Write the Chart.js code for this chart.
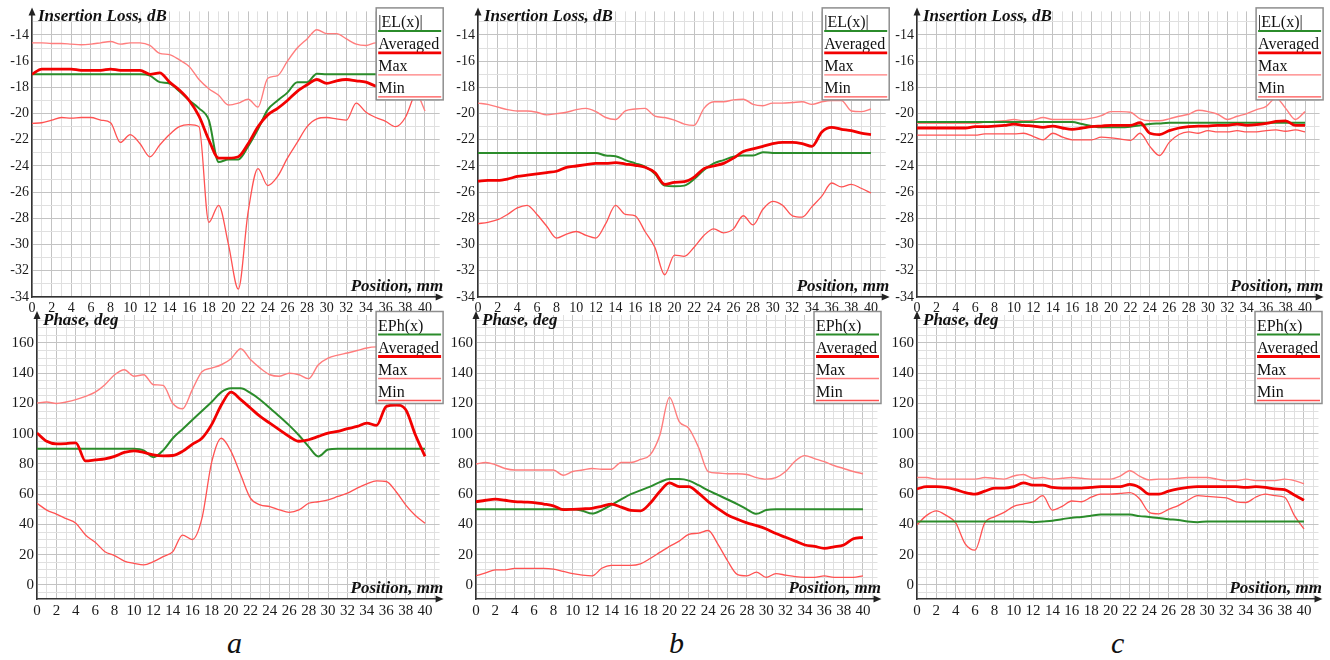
<!DOCTYPE html>
<html>
<head>
<meta charset="utf-8">
<script src="https://cdn.jsdelivr.net/npm/chart.js@4.4.1/dist/chart.umd.min.js"></script>
<style>
body { margin: 0; background: #fff; }
#fig { position: relative; width: 1330px; height: 660px; overflow: hidden; background: #fff; }
#fig canvas { position: absolute; }
.sub { position: absolute; font: italic 30px "Liberation Serif", serif; line-height: 30px; color: #111; }
</style>
</head>
<body>
<div id="fig">
<canvas id="ilA" width="445" height="312" style="left:0px;top:0px"></canvas>
<canvas id="ilB" width="445" height="312" style="left:445px;top:0px"></canvas>
<canvas id="ilC" width="445" height="312" style="left:885px;top:0px"></canvas>
<canvas id="phA" width="445" height="315" style="left:0px;top:300px"></canvas>
<canvas id="phB" width="445" height="315" style="left:445px;top:300px"></canvas>
<canvas id="phC" width="445" height="315" style="left:885px;top:300px"></canvas>
<div class="sub" style="left:227px;top:628px">a</div>
<div class="sub" style="left:669px;top:628px">b</div>
<div class="sub" style="left:1111px;top:628px">c</div>
</div>
<script>
// position along the line, mm
const posMm = [0,1,2,3,4,5,6,7,8,9,10,11,12,13,14,15,16,17,18,19,20,21,22,23,24,25,26,27,28,29,30,31,32,33,34,35,36,37,38,39,40];

// insertion loss, dB (panel a, b, c)
const ilA_el  = [-17,-17,-17,-17,-17,-17,-17,-17,-17,-17,-17,-17,-17.1,-17.6,-17.7,-18.3,-19.0,-19.6,-20.5,-23.7,-23.5,-23.5,-22.5,-21.2,-19.7,-19.0,-18.4,-17.6,-17.6,-16.95,-17,-17,-17,-17,-17,-17,-17,-17,-17,-17,-17];
const ilA_avg = [-17.0,-16.6,-16.6,-16.6,-16.6,-16.7,-16.7,-16.7,-16.6,-16.7,-16.7,-16.7,-17.0,-16.9,-17.6,-18.2,-19.0,-20.2,-22.0,-23.4,-23.4,-23.3,-22.3,-21.0,-20.1,-19.6,-19.0,-18.3,-17.8,-17.4,-17.7,-17.5,-17.4,-17.5,-17.6,-17.9,-18.0,-18.0,-18.1,-18.0,-18.0];
const ilA_max = [-14.6,-14.6,-14.65,-14.65,-14.7,-14.75,-14.7,-14.6,-14.5,-14.7,-14.6,-14.6,-14.8,-15.4,-15.5,-15.9,-16.4,-17.4,-18.1,-18.6,-19.35,-19.2,-18.9,-19.5,-17.3,-17.1,-16.0,-15.0,-14.3,-13.6,-13.9,-13.9,-14.3,-14.7,-14.8,-14.6,-14.8,-15.5,-16.5,-18.0,-19.8];
const ilA_min = [-20.75,-20.7,-20.5,-20.3,-20.35,-20.3,-20.3,-20.5,-20.7,-22.2,-21.6,-22.3,-23.3,-22.4,-21.6,-21.0,-20.85,-21.0,-28.3,-27.0,-30.0,-33.4,-27.5,-24.2,-25.5,-24.8,-23.4,-22.2,-21.0,-20.4,-20.3,-20.4,-20.5,-19.2,-19.9,-20.3,-20.6,-21.0,-20.3,-18.5,-18.0];

const ilB_el  = [-23,-23,-23,-23,-23,-23,-23,-23,-23,-23,-23,-23,-23,-23.2,-23.25,-23.55,-23.8,-24.05,-24.6,-25.5,-25.55,-25.5,-25.0,-24.3,-23.8,-23.55,-23.3,-23.2,-23.2,-22.95,-23,-23,-23,-23,-23,-23,-23,-23,-23,-23,-23];
const ilB_avg = [-25.15,-25.1,-25.1,-25.0,-24.8,-24.7,-24.6,-24.5,-24.4,-24.1,-24.0,-23.9,-23.8,-23.8,-23.75,-23.85,-23.95,-24.1,-24.5,-25.4,-25.25,-25.2,-24.85,-24.2,-24.0,-23.8,-23.4,-22.9,-22.7,-22.5,-22.3,-22.2,-22.2,-22.3,-22.5,-21.4,-21.05,-21.2,-21.3,-21.5,-21.6];
const ilB_max = [-19.2,-19.3,-19.5,-19.7,-19.8,-19.8,-19.9,-20.1,-20.0,-19.9,-19.7,-19.6,-19.85,-20.3,-20.45,-19.8,-19.65,-19.6,-20.2,-20.3,-20.5,-20.8,-20.9,-19.6,-19.1,-19.1,-18.95,-18.9,-19.3,-19.4,-19.2,-19.2,-19.15,-19.1,-19.3,-19.1,-19.0,-19.0,-19.8,-19.85,-19.65];
const ilB_min = [-28.4,-28.3,-28.1,-27.7,-27.2,-27.0,-27.7,-28.6,-29.5,-29.2,-29.0,-29.3,-29.5,-28.4,-27.0,-27.7,-27.8,-29.0,-30.2,-32.3,-30.8,-30.9,-30.2,-29.3,-28.8,-29.1,-28.8,-27.8,-28.5,-27.3,-26.7,-27.0,-27.8,-27.9,-27.1,-26.3,-25.3,-25.6,-25.4,-25.7,-26.05];

const ilC_el  = [-20.65,-20.65,-20.65,-20.65,-20.65,-20.65,-20.65,-20.65,-20.65,-20.65,-20.65,-20.65,-20.65,-20.65,-20.65,-20.65,-20.65,-20.8,-20.95,-21.05,-21.05,-21.05,-21.0,-20.9,-20.8,-20.75,-20.7,-20.7,-20.7,-20.7,-20.7,-20.7,-20.7,-20.7,-20.7,-20.7,-20.7,-20.7,-20.7,-20.7,-20.7];
const ilC_avg = [-21.1,-21.1,-21.1,-21.1,-21.1,-21.1,-21.0,-21.0,-20.95,-20.9,-20.8,-20.9,-20.95,-21.05,-20.95,-21.1,-21.2,-21.1,-21.0,-20.95,-20.9,-20.9,-20.9,-20.7,-21.5,-21.6,-21.3,-21.1,-21.0,-20.95,-20.95,-20.9,-20.9,-20.8,-20.9,-20.85,-20.75,-20.6,-20.55,-20.9,-20.9];
const ilC_max = [-20.75,-20.75,-20.75,-20.75,-20.75,-20.75,-20.75,-20.65,-20.6,-20.55,-20.45,-20.55,-20.5,-20.3,-20.45,-20.45,-20.45,-20.45,-20.35,-20.15,-19.85,-19.85,-19.9,-20.4,-20.55,-20.55,-20.4,-20.2,-20.05,-19.75,-19.85,-20.05,-20.45,-20.2,-20.0,-19.7,-19.45,-18.8,-19.6,-20.45,-19.85];
const ilC_min = [-21.65,-21.65,-21.65,-21.65,-21.65,-21.65,-21.65,-21.55,-21.55,-21.55,-21.55,-21.5,-21.75,-22.0,-21.5,-21.8,-22.0,-22.0,-22.0,-21.8,-21.85,-21.95,-22.05,-21.5,-22.5,-23.2,-22.2,-21.6,-21.4,-21.5,-21.3,-21.4,-21.4,-21.3,-21.4,-21.4,-21.3,-21.25,-21.35,-21.25,-21.4];

// phase, deg (panel a, b, c)
const phA_el  = [90,90,90,90,90,90,90,90,90,90,90,89,84.5,89,97,103,109,115,121,127.5,130,130,127,122.5,117,111.4,105.5,99,91.5,85,89.5,90,90,90,90,90,90,90,90,90,90];
const phA_avg = [100.5,95,93.3,93.5,94,82,82.7,83.4,85,87.6,88.7,87.6,86,85.4,85.6,88.3,93,97,106,119,127.5,122.5,117,111.4,107,102.6,98.2,95,96,98.2,100.4,101.5,103.3,104.8,107,105.5,118,119,116,99.3,85];
const phA_max = [120.3,121,120,121,122.5,124.7,127.5,132.4,139,142.3,138,139,132.4,132,120,116.5,129,141,143.4,145.6,149.6,156.2,149,143.4,139,138,140,139,136.4,145.6,150,152,153.4,155,156.7,157.4,157.5,158,158,158,158];
const phA_min = [54,49.5,46.8,43.8,40.8,33,28.2,22,19.4,15.8,14.3,13.2,15.4,18.7,22,33,30,44,81,97,88.3,72.8,57.4,53,51.8,49.6,48,49.6,54,55,56.2,58.5,60.7,64,66.8,68.8,68.4,61.8,53,45.9,40.8];

const phB_el  = [50,50,50,50,50,50,50,50,50,50,50,49,47.2,49.5,53,56.5,60,62.5,65,68,70,70,69,66,62.5,59.5,56.5,53.5,50,47,49.5,50,50,50,50,50,50,50,50,50,50];
const phB_avg = [55,56,56.8,56,55.1,54.8,54.5,53.5,52.3,49.8,50,50.3,50.7,52,53.4,51.5,49.3,49,54,61.8,67.5,65,65,60.7,55.1,50.5,46.3,43.5,41,39.2,37,34,31.5,29,26.4,25.5,24.2,25.2,26.4,30.5,31.5];
const phB_max = [80,81,79.5,77,76,76,76,76,76,72.5,75,76,77,76.5,76.5,81,81,83,86,99,124,108,103.5,91,75,74,73.5,73.5,73,71,70,71,75,82,85.5,83.5,81.5,79,77,75,73.5];
const phB_min = [6.1,8,10,10,11,11,11,11,10.5,9,7.5,6.5,6,11,13,13,13,14,17.5,21.5,25.5,29,33.5,34.2,36,27,16,7,6,8.5,5,7.5,6.5,5.5,5,5,6,5,5,5,6];

const phC_el  = [42,42,42,42,42,42,42,42,42,42,42,42,41.5,42,42.5,43.5,44.5,45,45.8,46.5,46.5,46.5,46.5,45.5,45,44.3,43.5,43,42,41.5,42,42,42,42,42,42,42,42,42,42,42];
const phC_avg = [63.5,65,65,64.5,63,61,60,62,64,64,65,67.5,66,66,64.5,64,64,64,64.5,65,65,65,66.5,64.5,60,60,62,63.5,64.5,65,65,65,65,65,64.5,65,64.5,63.5,63,59.5,56];
const phC_max = [71,71,70,70,70,70,70,71,70.5,70,72,73,70.5,71,70,70.5,71,70.5,70,70,70,72,75.5,72,69.5,70,70,70.5,71,71,71,70,69,69,70,69,69,69,70,69,67];
const phC_min = [39.7,46,49,46,41,27,23,41,45,48,52,53.5,55,59,49.5,52,55.5,55,58,60,60,60.5,61,57,48,47,50,52.5,56,59,58.5,58,57.5,55,54.5,58,60,59,58,46,37];

const legendIL = ['|EL(x)|', 'Averaged', 'Max', 'Min'];
const legendPH = ['EPh(x)', 'Averaged', 'Max', 'Min'];

// colour and width of each series, same order as the legend
const styles = [
    { color: '#2b8c2b', width: 2 },
    { color: '#f20000', width: 2.8 },
    { color: '#ff7d7d', width: 1.4 },
    { color: '#ff5252', width: 1.3 }
];

Chart.defaults.font.family = '"Liberation Serif", "Times New Roman", serif';
Chart.defaults.color = '#1a1a1a';

// axis arrows, axis titles and the boxed legend
const panelDecor = {
    id: 'panelDecor',
    afterDraw(chart, args, opts) {
        const ctx = chart.ctx;
        const a = chart.chartArea;
        ctx.save();
        ctx.fillStyle = '#222';
        ctx.beginPath();
        ctx.moveTo(a.left, a.top - 4);
        ctx.lineTo(a.left - 3.5, a.top + 4);
        ctx.lineTo(a.left + 3.5, a.top + 4);
        ctx.closePath();
        ctx.fill();
        ctx.beginPath();
        ctx.moveTo(a.right + 4, a.bottom);
        ctx.lineTo(a.right - 4, a.bottom - 3.5);
        ctx.lineTo(a.right - 4, a.bottom + 3.5);
        ctx.closePath();
        ctx.fill();

        ctx.fillStyle = '#111';
        ctx.font = 'italic bold 17px "Liberation Serif"';
        ctx.textBaseline = 'alphabetic';
        ctx.textAlign = 'left';
        ctx.fillText(opts.yTitle, a.left + 6, a.top + 9.5);
        ctx.textAlign = 'right';
        ctx.fillText('Position, mm', a.right + 3.5, a.bottom - 6);

        // legend box
        const w = 67, h = 92;
        const x0 = a.right + 3.5 - w;
        const y0 = a.top - 3.5;
        ctx.fillStyle = '#fff';
        ctx.fillRect(x0, y0, w, h);
        ctx.strokeStyle = '#8e8e8e';
        ctx.lineWidth = 1.5;
        ctx.strokeRect(x0, y0, w, h);
        ctx.font = '16px "Liberation Serif"';
        ctx.textAlign = 'left';
        opts.labels.forEach((txt, i) => {
            ctx.fillStyle = '#111';
            ctx.fillText(txt, x0 + 2, y0 + 19 + 22 * i);
            ctx.strokeStyle = styles[i].color;
            ctx.lineWidth = styles[i].width;
            ctx.beginPath();
            ctx.moveTo(x0 + 2, y0 + 23 + 22 * i);
            ctx.lineTo(x0 + w - 2, y0 + 23 + 22 * i);
            ctx.stroke();
        });
        ctx.restore();
    }
};

function makePanel(p) {
    const il = p.kind === 'il';
    const isMajorY = (v) => il ? Math.abs(Math.round(v)) % 2 === 0 : Math.round(v) % 20 === 0;
    const series = [p.el, p.avg, p.max, p.min];
    // Averaged drawn on top, then the model curve, then max/min
    const drawOrder = [1, 0, 2, 3];
    const datasets = drawOrder.map((k) => ({
        data: posMm.map((x, i) => ({ x: x, y: series[k][i] })),
        borderColor: styles[k].color,
        borderWidth: styles[k].width,
        pointRadius: 0,
        fill: false,
        cubicInterpolationMode: 'monotone'
    }));

    return new Chart(document.getElementById(p.id), {
        type: 'line',
        data: { datasets: datasets },
        plugins: [panelDecor],
        options: {
            responsive: false,
            animation: false,
            events: [],
            layout: { padding: { left: 0, top: p.top, right: p.right, bottom: 0 } },
            plugins: {
                legend: { display: false },
                tooltip: { enabled: false },
                panelDecor: { yTitle: il ? 'Insertion Loss, dB' : 'Phase, deg', labels: il ? legendIL : legendPH }
            },
            scales: {
                x: {
                    type: 'linear',
                    min: 0,
                    max: 41.5,
                    afterFit: (s) => { s.height = p.xh; },
                    border: { display: true, color: '#333', width: 1.5 },
                    grid: {
                        drawTicks: false,
                        color: (c) => (c.tick && c.tick.value % 2 === 0) ? '#c3c3c3' : '#e0e0e0'
                    },
                    ticks: {
                        stepSize: 1,
                        includeBounds: false,
                        autoSkip: false,
                        maxRotation: 0,
                        minRotation: 0,
                        padding: 3,
                        font: { size: il ? 14 : 15 },
                        callback: (v) => (v % 2 === 0 && v <= 40) ? String(v) : ''
                    }
                },
                y: {
                    min: il ? -34 : -9.3,
                    max: il ? -12.2 : 178.5,
                    afterFit: (s) => { s.width = p.left; },
                    border: { display: true, color: '#333', width: 1.5 },
                    grid: {
                        drawTicks: false,
                        color: (c) => (c.tick && isMajorY(c.tick.value)) ? '#c3c3c3' : '#e0e0e0'
                    },
                    ticks: {
                        stepSize: il ? 1 : 5,
                        includeBounds: false,
                        autoSkip: false,
                        padding: 3,
                        font: { size: il ? 14 : 15 },
                        callback: (v) => (isMajorY(v) && v >= (il ? -34 : 0) && v <= (il ? -14 : 160)) ? String(v) : ''
                    }
                }
            }
        }
    });
}

makePanel({ id: 'ilA', kind: 'il', left: 32, top: 11.4, right: 5.3, xh: 15, el: ilA_el, avg: ilA_avg, max: ilA_max, min: ilA_min });
makePanel({ id: 'ilB', kind: 'il', left: 33, top: 11.4, right: 4.3, xh: 15, el: ilB_el, avg: ilB_avg, max: ilB_max, min: ilB_min });
makePanel({ id: 'ilC', kind: 'il', left: 32, top: 11.4, right: 10.4, xh: 15, el: ilC_el, avg: ilC_avg, max: ilC_max, min: ilC_min });
makePanel({ id: 'phA', kind: 'ph', left: 37, top: 15, right: 5.4, xh: 16, el: phA_el, avg: phA_avg, max: phA_max, min: phA_min });
makePanel({ id: 'phB', kind: 'ph', left: 31, top: 15, right: 12.5, xh: 16, el: phB_el, avg: phB_avg, max: phB_max, min: phB_min });
makePanel({ id: 'phC', kind: 'ph', left: 32, top: 15, right: 11.5, xh: 16, el: phC_el, avg: phC_avg, max: phC_max, min: phC_min });
</script>
</body>
</html>
